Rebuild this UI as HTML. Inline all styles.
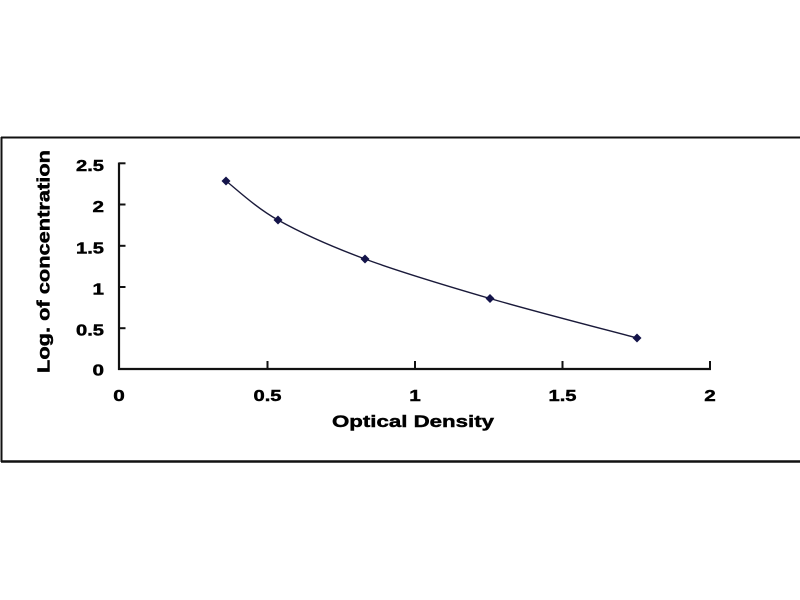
<!DOCTYPE html>
<html>
<head>
<meta charset="utf-8">
<style>
  html, body { margin: 0; padding: 0; background: #ffffff; }
  body { width: 800px; height: 600px; overflow: hidden; }
  svg { display: block; }
  text { font-family: "Liberation Sans", Arial, sans-serif; font-weight: bold; fill: #000; stroke: #000; stroke-width: 0.45; }
</style>
</head>
<body>
<svg width="800" height="600" viewBox="0 0 800 600" xmlns="http://www.w3.org/2000/svg">
  <rect x="0" y="0" width="800" height="600" fill="#ffffff"/>
  <!-- outer frame -->
  <line x1="1" y1="137.5" x2="800" y2="137.5" stroke="#111" stroke-width="2"/>
  <line x1="1" y1="461.5" x2="800" y2="461.5" stroke="#111" stroke-width="2.5"/>
  <line x1="1.5" y1="137" x2="1.5" y2="462" stroke="#111" stroke-width="2"/>

  <!-- axes -->
  <line x1="119" y1="162.5" x2="119" y2="370" stroke="#111" stroke-width="2.2"/>
  <line x1="118" y1="369" x2="711" y2="369" stroke="#111" stroke-width="2.2"/>

  <!-- y ticks -->
  <g stroke="#111" stroke-width="2">
    <line x1="119" y1="163.3" x2="125.5" y2="163.3"/>
    <line x1="119" y1="204.5" x2="125.5" y2="204.5"/>
    <line x1="119" y1="245.8" x2="125.5" y2="245.8"/>
    <line x1="119" y1="287" x2="125.5" y2="287"/>
    <line x1="119" y1="328.2" x2="125.5" y2="328.2"/>
  </g>
  <!-- x ticks -->
  <g stroke="#111" stroke-width="2">
    <line x1="267.5" y1="369" x2="267.5" y2="361"/>
    <line x1="415" y1="369" x2="415" y2="361"/>
    <line x1="562.5" y1="369" x2="562.5" y2="361"/>
    <line x1="710" y1="369" x2="710" y2="361"/>
  </g>

  <!-- y tick labels -->
  <g font-size="16" text-anchor="end">
    <text x="104" y="171" textLength="28" lengthAdjust="spacingAndGlyphs">2.5</text>
    <text x="104" y="212" textLength="11.5" lengthAdjust="spacingAndGlyphs">2</text>
    <text x="104" y="253.3" textLength="28" lengthAdjust="spacingAndGlyphs">1.5</text>
    <text x="104" y="294.5" textLength="11.5" lengthAdjust="spacingAndGlyphs">1</text>
    <text x="104" y="335.5" textLength="28" lengthAdjust="spacingAndGlyphs">0.5</text>
    <text x="104" y="375.5" textLength="11.5" lengthAdjust="spacingAndGlyphs">0</text>
  </g>

  <!-- x tick labels -->
  <g font-size="16" text-anchor="middle">
    <text x="119" y="401" textLength="11.5" lengthAdjust="spacingAndGlyphs">0</text>
    <text x="267.5" y="401" textLength="28" lengthAdjust="spacingAndGlyphs">0.5</text>
    <text x="415" y="401" textLength="11.5" lengthAdjust="spacingAndGlyphs">1</text>
    <text x="562.5" y="401" textLength="28" lengthAdjust="spacingAndGlyphs">1.5</text>
    <text x="710" y="401" textLength="11.5" lengthAdjust="spacingAndGlyphs">2</text>
  </g>

  <!-- axis titles -->
  <text x="413" y="427" font-size="17" text-anchor="middle" textLength="162" lengthAdjust="spacingAndGlyphs">Optical Density</text>
  <text transform="translate(49.5,261.5) rotate(-90)" x="0" y="0" font-size="17.5" text-anchor="middle" textLength="223" lengthAdjust="spacingAndGlyphs">Log. of concentration</text>

  <!-- curve -->
  <path d="M226,181 C234.7,187.5 254.8,207 278,220 C301.2,233 329.7,245.9 365,259 C400.3,272.1 444.7,285.3 490,298.5 C535.3,311.7 612.5,331.4 637,338"
        fill="none" stroke="#1a1a3a" stroke-width="1.4"/>

  <!-- markers -->
  <g fill="#14144a">
    <polygon points="226,176.5 230.5,181 226,185.5 221.5,181"/>
    <polygon points="278,215.5 282.5,220 278,224.5 273.5,220"/>
    <polygon points="365,254.5 369.5,259 365,263.5 360.5,259"/>
    <polygon points="490,294 494.5,298.5 490,303 485.5,298.5"/>
    <polygon points="637,333.5 641.5,338 637,342.5 632.5,338"/>
  </g>
</svg>
</body>
</html>
